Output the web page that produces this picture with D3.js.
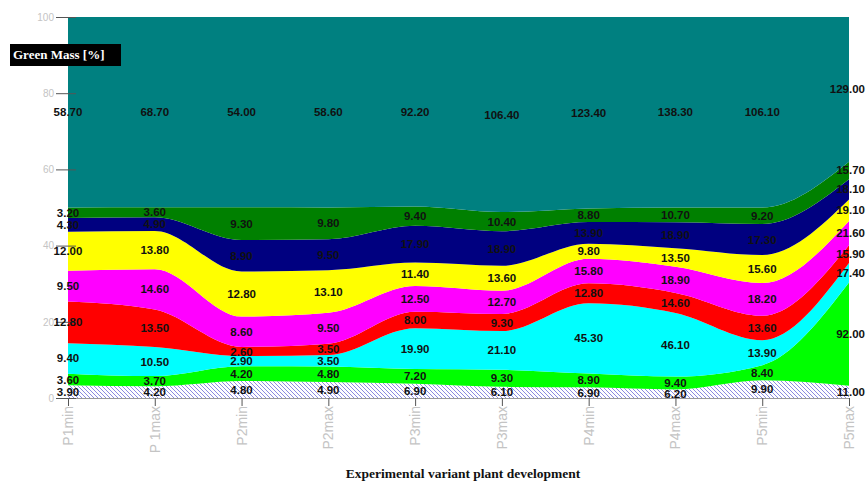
<!DOCTYPE html>
<html>
<head>
<meta charset="utf-8">
<script src="https://cdn.jsdelivr.net/npm/d3@7"></script>
<style>
  html, body { margin: 0; padding: 0; background: #fff; }
  svg { display: block; }
</style>
</head>
<body>
<svg id="chart" width="866" height="481"></svg>
<script>
// ---- data (raw values, shown as 100% stacked) ----
const categories = ["P1min", "P 1max", "P2min", "P2max", "P3min", "P3max", "P4min", "P4max", "P5min", "P5max"];
const seriesNames = ["s1", "s2", "s3", "s4", "s5", "s6", "s7", "s8", "s9"];
const s1 = [3.90, 4.20, 4.80, 4.90, 6.90, 6.10, 6.90, 6.20, 9.90, 11.00];        // hatched
const s2 = [3.60, 3.70, 4.20, 4.80, 7.20, 9.30, 8.90, 9.40, 8.40, 92.00];        // lime
const s3 = [9.40, 10.50, 2.90, 3.50, 19.90, 21.10, 45.30, 46.10, 13.90, 17.40];  // cyan
const s4 = [12.80, 13.50, 2.60, 3.50, 8.00, 9.30, 12.80, 14.60, 13.60, 15.90];   // red
const s5 = [9.50, 14.60, 8.60, 9.50, 12.50, 12.70, 15.80, 18.90, 18.20, 21.60];  // magenta
const s6 = [12.00, 13.80, 12.80, 13.10, 11.40, 13.60, 9.80, 13.50, 15.60, 19.10];// yellow
const s7 = [4.30, 4.90, 8.90, 9.50, 17.90, 18.90, 13.90, 18.90, 17.30, 18.10];   // navy
const s8 = [3.20, 3.60, 9.30, 9.80, 9.40, 10.40, 8.80, 10.70, 9.20, 15.70];      // dark green
const s9 = [58.70, 68.70, 54.00, 58.60, 92.20, 106.40, 123.40, 138.30, 106.10, 129.00]; // teal
const yTicks = [0, 20, 40, 60, 80, 100];
const seriesColors = ["url(#hatch)", "#00ff00", "#00ffff", "#ff0000", "#ff00ff", "#ffff00", "#000080", "#008000", "#008080"];

const allSeries = [s1, s2, s3, s4, s5, s6, s7, s8, s9];
const table = categories.map((c, i) => {
  const row = { cat: c };
  seriesNames.forEach((n, k) => row[n] = allSeries[k][i]);
  return row;
});

const svg = d3.select("#chart");
const W = 866;
const mLeft = 68, mRight = 849, mTop = 17, mBottom = 398;

const defs = svg.append("defs");
const pat = defs.append("pattern").attr("id", "hatch")
  .attr("patternUnits", "userSpaceOnUse").attr("width", 4).attr("height", 4);
pat.append("rect").attr("width", 4).attr("height", 4).attr("fill", "#ffffff");
pat.append("path").attr("d", "M-1,-1 L5,5 M-1,3 L1,5 M3,-1 L5,1")
  .attr("stroke", "#8c8ce0").attr("stroke-width", 1);

const x = d3.scalePoint().domain(categories).range([mLeft, mRight]);
const y = d3.scaleLinear().domain([0, 1]).range([mBottom, mTop]);

const stack = d3.stack().keys(seriesNames).offset(d3.stackOffsetExpand);
const layers = stack(table);

const area = d3.area()
  .x(d => x(d.data.cat))
  .y0(d => y(d[0]))
  .y1(d => y(d[1]))
  .curve(d3.curveMonotoneX);

svg.append("g").selectAll("path").data(layers).join("path")
  .attr("d", area)
  .attr("fill", (d, i) => seriesColors[i]);

// bottom axis line and ticks
const xAxis = svg.append("g").attr("transform", `translate(0,${mBottom})`)
  .call(d3.axisBottom(x).tickSize(8).tickSizeOuter(0).tickFormat(""));
xAxis.select(".domain").attr("stroke", "#999");
xAxis.selectAll(".tick line").attr("stroke", "#555");

// rotated category labels
svg.append("g").selectAll("text").data(categories).join("text")
  .attr("transform", d => `translate(${x(d) + 5},${mBottom + 8}) rotate(-90)`)
  .attr("text-anchor", "end")
  .attr("font-family", "Liberation Sans, Arial, sans-serif")
  .attr("font-size", 14)
  .attr("fill", "#c4c4c4")
  .text(d => d);

// y axis
const yAxis = svg.append("g").attr("transform", `translate(${mLeft + 8},0)`)
  .call(d3.axisLeft(y).tickValues(yTicks.map(v => v / 100)).tickSize(20).tickPadding(2)
    .tickFormat(d => Math.round(d * 100)));
yAxis.select(".domain").remove();
yAxis.selectAll(".tick line").attr("stroke", "#555");
yAxis.selectAll(".tick text").attr("fill", "#c4c4c4")
  .attr("font-family", "Liberation Sans, Arial, sans-serif").attr("font-size", 10);

// value labels
const lbl = svg.append("g");
layers.forEach((layer, k) => {
  layer.forEach((d, i) => {
    const last = i === categories.length - 1;
    lbl.append("text")
      .attr("x", last ? W - 1 : x(d.data.cat))
      .attr("y", y((d[0] + d[1]) / 2))
      .attr("dy", "0.35em")
      .attr("text-anchor", last ? "end" : "middle")
      .attr("font-family", "Liberation Sans, Arial, sans-serif")
      .attr("font-weight", "bold")
      .attr("font-size", 11.5)
      .attr("fill", "#111")
      .text(allSeries[k][i].toFixed(2));
  });
});

// y title box
svg.append("rect").attr("x", 10).attr("y", 44).attr("width", 111).attr("height", 22).attr("fill", "#000");
svg.append("text").attr("x", 13).attr("y", 59)
  .attr("font-family", "Liberation Serif, Times New Roman, serif")
  .attr("font-weight", "bold").attr("font-size", 13).attr("fill", "#fff")
  .text("Green Mass [%]");

// x title
svg.append("text").attr("x", 463).attr("y", 478)
  .attr("text-anchor", "middle")
  .attr("font-family", "Liberation Serif, Times New Roman, serif")
  .attr("font-weight", "bold").attr("font-size", 13.5).attr("fill", "#111")
  .text("Experimental variant plant development");
</script>
</body>
</html>
